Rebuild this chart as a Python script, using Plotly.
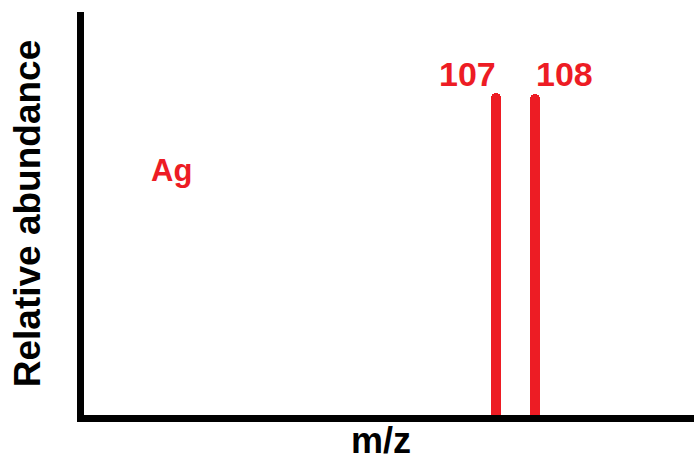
import plotly.graph_objects as go

# Data
masses = [107, 108]
abundance = [80, 79.7]
peak_labels = ["107", "108"]
element = "Ag"
x_title = "m/z"
y_title = "Relative abundance"

RED = "#ED1C24"
FONT = "Liberation Sans, Arial, sans-serif"

fig = go.Figure()
fig.add_trace(go.Bar(
    x=masses, y=abundance, width=0.27,
    marker=dict(color=RED, cornerradius=5, line=dict(width=0)),
    showlegend=False, hoverinfo="skip",
))

label_x = [106.28, 108.77]
label_y = [84.6, 84.6]
for lx, ly, t in zip(label_x, label_y, peak_labels):
    fig.add_annotation(x=lx, y=ly, text="<b>%s</b>" % t, showarrow=False,
                       font=dict(family=FONT, size=34, color=RED),
                       xanchor="center", yanchor="middle")
fig.add_annotation(x=98.69, y=61.5, yshift=-3, text="<b>%s</b>" % element, showarrow=False,
                   font=dict(family=FONT, size=31, color=RED),
                   xanchor="center", yanchor="middle")

# x-axis title as annotation for exact placement
fig.add_annotation(x=0.487, y=-0.064, xref="paper", yref="paper", borderpad=0,
                   text="<b>%s</b>" % x_title, showarrow=False,
                   font=dict(family=FONT, size=36, color="black"),
                   xanchor="center", yanchor="middle")

fig.update_layout(
    width=694, height=463,
    margin=dict(l=84, r=0, t=12, b=48),
    paper_bgcolor="white", plot_bgcolor="white",
    xaxis=dict(range=[96.44, 112.08], showline=True, linewidth=7, linecolor="black",
               showticklabels=False, ticks="", showgrid=False, zeroline=False),
    yaxis=dict(range=[0, 100], showline=True, linewidth=7, linecolor="black",
               showticklabels=False, ticks="", showgrid=False, zeroline=False,
               title=dict(text="<b>%s</b>" % y_title, font=dict(family=FONT, size=37, color="black"), standoff=28)),
    bargap=0,
)

fig.write_html("out.html", config={"displayModeBar": False},
               post_script="document.body.style.margin='0';document.body.style.overflow='hidden';")
